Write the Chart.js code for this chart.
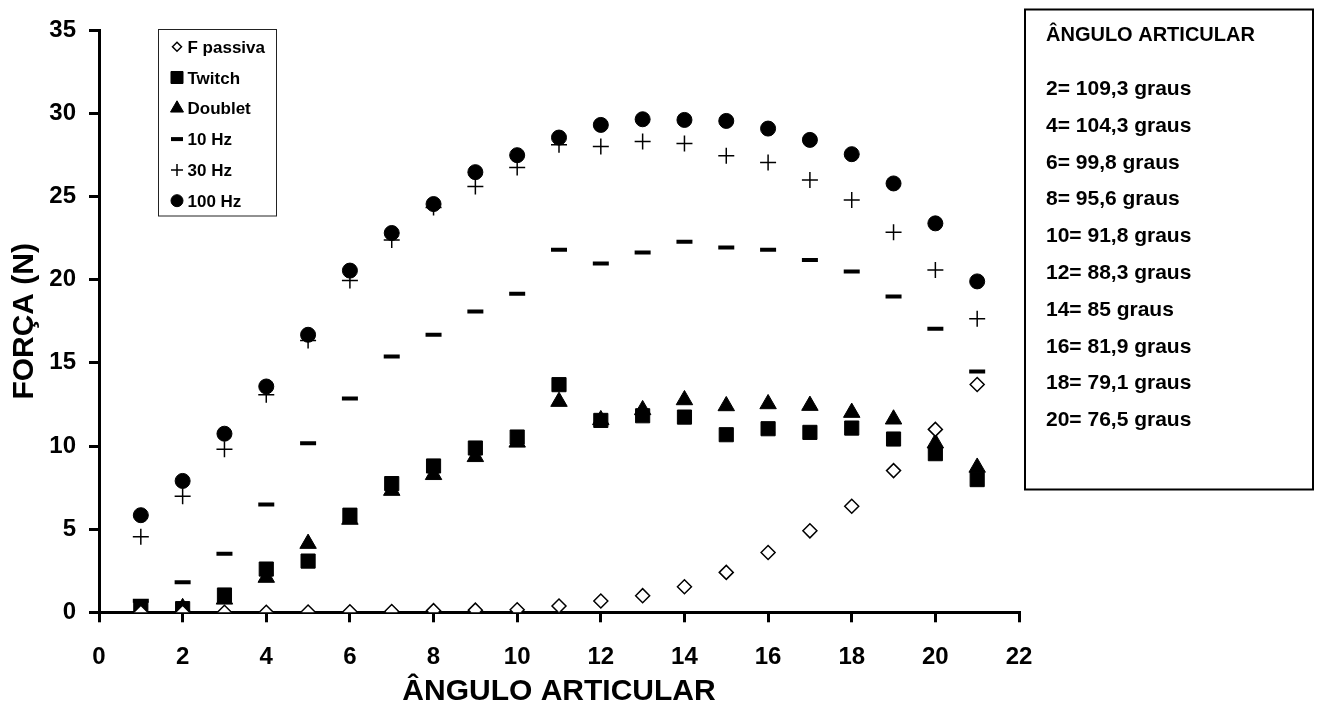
<!DOCTYPE html>
<html><head><meta charset="utf-8">
<script src="https://cdn.jsdelivr.net/npm/chart.js@4.4.0/dist/chart.umd.min.js"></script>
<style>html,body{margin:0;padding:0;background:#fff;}#wrap{width:1320px;height:710px;position:relative;}</style>
</head><body><div id="wrap"><canvas id="c" width="1320" height="710"></canvas></div>
<script>
const categories = [1,2,3,4,5,6,7,8,9,10,11,12,13,14,15,16,17,18,19,20,21];
const fPassiva = [0.0,0.0,0.0,0.0,0.02,0.03,0.05,0.1,0.13,0.15,0.38,0.68,1.0,1.54,2.4,3.6,4.9,6.38,8.52,11.0,13.7];
const twitch   = [0.24,0.22,1.04,2.6,3.08,5.84,7.74,8.8,9.88,10.54,13.69,11.54,11.82,11.74,10.68,11.04,10.82,11.08,10.42,9.54,7.98];
const doublet  = [0.0,0.27,0.78,2.09,4.13,5.58,7.32,8.27,9.35,10.22,12.67,11.57,12.17,12.77,12.41,12.53,12.43,12.01,11.61,10.17,8.71];
const hz10     = [0.7,1.8,3.52,6.48,10.16,12.85,15.38,16.69,18.09,19.15,21.81,20.97,21.63,22.29,21.94,21.81,21.19,20.49,18.99,17.05,14.48];
const hz30     = [4.54,6.98,9.8,13.09,16.34,19.95,22.39,24.35,25.61,26.75,28.11,28.01,28.31,28.19,27.45,27.05,25.99,24.79,22.85,20.59,17.65];
const hz100    = [5.84,7.9,10.74,13.58,16.69,20.55,22.81,24.55,26.47,27.49,28.55,29.31,29.65,29.61,29.55,29.09,28.41,27.55,25.79,23.39,19.9];
const xTicks = [0,2,4,6,8,10,12,14,16,18,20,22];
const yTicks = [0,5,10,15,20,25,30,35];
const seriesNames = ['F passiva','Twitch','Doublet','10 Hz','30 Hz','100 Hz'];
const xTitle = 'ÂNGULO ARTICULAR';
const yTitle = 'FORÇA (N)';
const boxTitle = 'ÂNGULO ARTICULAR';
const boxLines = ['2= 109,3 graus','4= 104,3 graus','6= 99,8 graus','8= 95,6 graus','10= 91,8 graus','12= 88,3 graus','14= 85 graus','16= 81,9 graus','18= 79,1 graus','20= 76,5 graus'];

const FONT = '"Liberation Sans", Arial, Helvetica, sans-serif';
Chart.defaults.font.family = FONT;
Chart.defaults.font.weight = 'bold';
Chart.defaults.color = '#000';

const pts = arr => categories.map((x, i) => ({x: x, y: arr[i]}));
const styles = [
  {pointStyle:'rectRot', pointRadius:7, backgroundColor:'#fff', borderColor:'#000', borderWidth:1.5, order:0},
  {pointStyle:'rect', pointRadius:10, backgroundColor:'#000', borderColor:'#000', borderWidth:1, order:1},
  {pointStyle:'triangle', pointRadius:9.5, backgroundColor:'#000', borderColor:'#000', borderWidth:1, order:2},
  {pointStyle:'line', pointRadius:8, backgroundColor:'#000', borderColor:'#000', borderWidth:4, order:5},
  {pointStyle:'cross', pointRadius:8, backgroundColor:'#000', borderColor:'#000', borderWidth:1.5, order:4},
  {pointStyle:'circle', pointRadius:7.5, backgroundColor:'#000', borderColor:'#000', borderWidth:1, order:3}
];
const seriesData = [fPassiva, twitch, doublet, hz10, hz30, hz100];
const legendMarks = [
  {pointStyle:'rectRot', radius:4.5, fill:'#fff', lw:1.5},
  {pointStyle:'rect', radius:8.5, fill:'#000', lw:1},
  {pointStyle:'triangle', radius:7.5, fill:'#000', lw:1},
  {pointStyle:'line', radius:6, fill:'#000', lw:4},
  {pointStyle:'cross', radius:6, fill:'#000', lw:1.5},
  {pointStyle:'circle', radius:6, fill:'#000', lw:1}
];

function drawMark(ctx, m, x, y) {
  ctx.save();
  ctx.fillStyle = m.fill; ctx.strokeStyle = '#000'; ctx.lineWidth = m.lw;
  if (Chart.helpers && Chart.helpers.drawPoint) {
    Chart.helpers.drawPoint(ctx, {pointStyle:m.pointStyle, radius:m.radius, borderWidth:m.lw, rotation:0}, x, y);
  }
  ctx.restore();
}

const boxesPlugin = {
  id: 'boxes',
  afterDraw(chart) {
    const ctx = chart.ctx;
    ctx.save();
    // legend box
    ctx.fillStyle = '#fff';
    ctx.fillRect(158.5, 29.5, 118, 186.5);
    ctx.strokeStyle = '#222'; ctx.lineWidth = 1;
    ctx.strokeRect(158.5, 29.5, 118, 186.5);
    ctx.font = 'bold 17px ' + FONT;
    ctx.textAlign = 'left'; ctx.textBaseline = 'alphabetic';
    seriesNames.forEach((n, i) => {
      const cy = 46.7 + i * 30.8;
      drawMark(ctx, legendMarks[i], 177, cy);
      ctx.fillStyle = '#000';
      ctx.fillText(n, 187.5, cy + 6.1);
    });
    // right box
    ctx.fillStyle = '#fff';
    ctx.fillRect(1025, 9.5, 288, 480);
    ctx.strokeStyle = '#000'; ctx.lineWidth = 2;
    ctx.strokeRect(1025, 9.5, 288, 480);
    ctx.fillStyle = '#000';
    ctx.font = 'bold 20px ' + FONT;
    ctx.fillText(boxTitle, 1046, 40.7);
    ctx.font = 'bold 21px ' + FONT;
    boxLines.forEach((t, i) => ctx.fillText(t, 1046, 95 + i * 36.8));
    ctx.restore();
  }
};

new Chart(document.getElementById('c'), {
  type: 'scatter',
  data: {
    datasets: seriesNames.map((n, i) => Object.assign({label:n, data:pts(seriesData[i]), showLine:false}, styles[i]))
  },
  options: {
    responsive: false,
    animation: false,
    events: [],
    devicePixelRatio: 1,
    layout: {padding: {left:0, right:301, top:30.3, bottom:0}},
    plugins: {legend:{display:false}, tooltip:{enabled:false}},
    scales: {
      x: {
        type:'linear', min:0, max:22,
        afterBuildTicks(s){ s.ticks = xTicks.map(v => ({value:v})); },
        afterFit(s){ s.height = 97.7; },
        ticks:{font:{size:24, weight:'bold'}, padding:21, color:'#000', maxRotation:0},
        grid:{drawOnChartArea:false, drawTicks:true, tickLength:10, tickWidth:3, lineWidth:3, tickColor:'#000', color:'#000'},
        border:{display:true, color:'#000', width:3},
        title:{display:true, text:xTitle, font:{size:30, weight:'bold'}, color:'#000', padding:{top:0, bottom:0}}
      },
      y: {
        type:'linear', min:0, max:35,
        afterBuildTicks(s){ s.ticks = yTicks.map(v => ({value:v})); },
        afterFit(s){ s.width = 99; },
        ticks:{font:{size:24, weight:'bold'}, padding:13, color:'#000'},
        grid:{drawOnChartArea:false, drawTicks:true, tickLength:10, tickWidth:3, lineWidth:3, tickColor:'#000', color:'#000'},
        border:{display:true, color:'#000', width:3},
        title:{display:true, text:yTitle, font:{size:30, weight:'bold'}, color:'#000', padding:{top:7, bottom:0}}
      }
    }
  },
  plugins: [boxesPlugin]
});
</script></body></html>
